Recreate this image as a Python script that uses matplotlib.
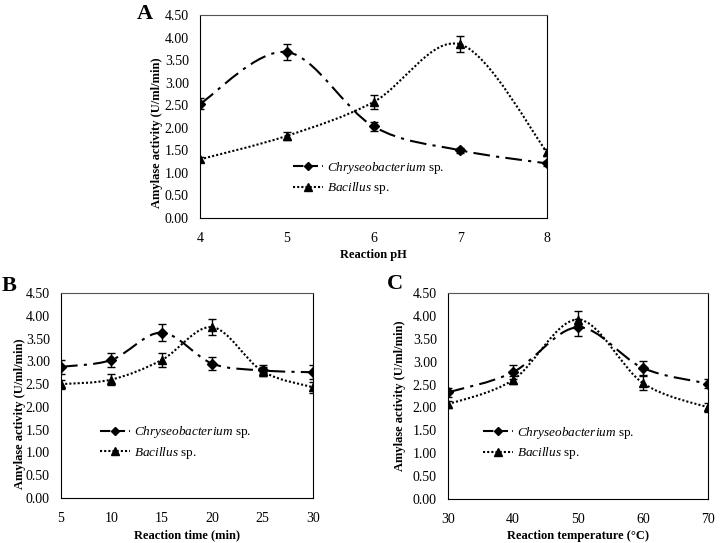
import matplotlib.pyplot as plt
from matplotlib.path import Path
from matplotlib.patches import PathPatch
import numpy as np

plt.rcParams['font.family'] = ['Liberation Serif', 'DejaVu Serif']
plt.rcParams['mathtext.fontset'] = 'custom'
plt.rcParams['mathtext.it'] = 'Liberation Serif:italic'
plt.rcParams['mathtext.rm'] = 'Liberation Serif'

# panel A: reaction pH
ph = [4, 5, 6, 7, 8]
ph_chry = [2.53, 3.68, 2.03, 1.50, 1.21]
ph_chry_err = [0.12, 0.18, 0.10, 0.05, 0.05]
ph_baci = [1.30, 1.82, 2.57, 3.85, 1.46]
ph_baci_err = [0.05, 0.08, 0.15, 0.18, 0.08]

# panel B: reaction time (min)
time = [5, 10, 15, 20, 25, 30]
time_chry = [2.88, 3.03, 3.63, 2.95, 2.80, 2.76]
time_chry_err = [0.15, 0.15, 0.18, 0.15, 0.12, 0.15]
time_baci = [2.50, 2.60, 3.03, 3.75, 2.78, 2.43]
time_baci_err = [0.10, 0.12, 0.15, 0.18, 0.10, 0.12]

# panel C: reaction temperature (C)
temp = [30, 40, 50, 60, 70]
temp_chry = [2.33, 2.77, 3.75, 2.86, 2.52]
temp_chry_err = [0.10, 0.15, 0.18, 0.15, 0.10]
temp_baci = [2.07, 2.60, 3.92, 2.53, 2.00]
temp_baci_err = [0.08, 0.08, 0.18, 0.15, 0.10]

yticks = np.arange(0, 4.51, 0.5)


def smooth_path(x, y):
    # Excel-like smoothed line: cubic Bezier segments through the points
    pts = np.column_stack([np.asarray(x, float), np.asarray(y, float)])
    n = len(pts)
    verts = [pts[0]]
    codes = [Path.MOVETO]
    for i in range(n - 1):
        p0 = pts[i - 1] if i > 0 else pts[i]
        p1 = pts[i]
        p2 = pts[i + 1]
        p3 = pts[i + 2] if i + 2 < n else pts[i + 1]
        verts += [p1 + (p2 - p0) / 6.0, p2 - (p3 - p1) / 6.0, p2]
        codes += [Path.CURVE4] * 3
    return Path(verts, codes)


def panel(ax, x, chry, chry_err, baci, baci_err, xlabel, letter, legpos,
          ylab_pos, letter_off):
    ax.add_patch(PathPatch(smooth_path(x, chry), fill=False, color='black',
                           lw=1.5, linestyle=(0, (8, 3, 1.5, 3)), zorder=2))
    ax.add_patch(PathPatch(smooth_path(x, baci), fill=False, color='black',
                           lw=1.5, linestyle=(0, (1, 1)), zorder=2))
    ax.errorbar(x, chry, yerr=chry_err, fmt='D', color='black', ms=5,
                capsize=3, elinewidth=1, capthick=1, zorder=3)
    ax.errorbar(x, baci, yerr=baci_err, fmt='^', color='black', ms=6,
                capsize=3, elinewidth=1, capthick=1, zorder=3)
    # legend handles
    h1, = ax.plot([], [], color='black', lw=1.5, linestyle=(0, (5, 2)),
                  marker='D', ms=4.5)
    h2, = ax.plot([], [], color='black', lw=1.5, linestyle=(0, (1, 1)),
                  marker='^', ms=5.5)
    ax.legend([h1, h2], [r'$\it{Chryseobacterium}$ sp.', r'$\it{Bacillus}$ sp.'],
              loc='center left', bbox_to_anchor=legpos, frameon=False,
              fontsize=9.5, handlelength=2.3, handletextpad=0.25,
              labelspacing=0.35, borderpad=0, borderaxespad=0)
    ax.set_xlim(x[0], x[-1])
    ax.set_ylim(0, 4.5)
    ax.set_xticks(x)
    ax.set_yticks(yticks)
    ax.set_yticklabels(['%.2f' % v for v in yticks])
    ax.tick_params(length=0, labelsize=10)
    ax.tick_params(axis='x', pad=10)
    ax.tick_params(axis='y', pad=8)
    ax.set_xlabel(xlabel, fontweight='bold', fontsize=9, labelpad=3)
    ax.set_ylabel('Amylase activity (U/ml/min)', fontweight='bold', fontsize=9)
    ax.yaxis.set_label_coords(ylab_pos[0] / ax.bbox.width, ylab_pos[1])
    for s in ['left', 'bottom', 'right']:
        ax.spines[s].set_color('black')
    ax.spines['top'].set_color('#555555')
    ax.annotate(letter, (0, 1), xycoords='axes fraction', xytext=letter_off,
                textcoords='offset pixels', fontsize=16, fontweight='bold',
                ha='left', va='center')


fig = plt.figure(figsize=(7.22, 5.43), dpi=100)
W, H = 722.0, 543.0
axA = fig.add_axes([200 / W, 1 - 218 / H, 347 / W, 203 / H])
axB = fig.add_axes([61 / W, 1 - 498 / H, 252 / W, 205 / H])
axC = fig.add_axes([448 / W, 1 - 499 / H, 260 / W, 206 / H])

panel(axA, ph, ph_chry, ph_chry_err, ph_baci, ph_baci_err,
      'Reaction pH', 'A', (0.268, 0.197), (-37, 0.42), (-63, 1))
panel(axB, time, time_chry, time_chry_err, time_baci, time_baci_err,
      'Reaction time (min)', 'B', (0.155, 0.27), (-35, 0.41), (-59, 7))
panel(axC, temp, temp_chry, temp_chry_err, temp_baci, temp_baci_err,
      'Reaction temperature (\u00b0C)', 'C', (0.135, 0.272), (-42, 0.5), (-61, 9))

fig.savefig('out.png', dpi=100)
